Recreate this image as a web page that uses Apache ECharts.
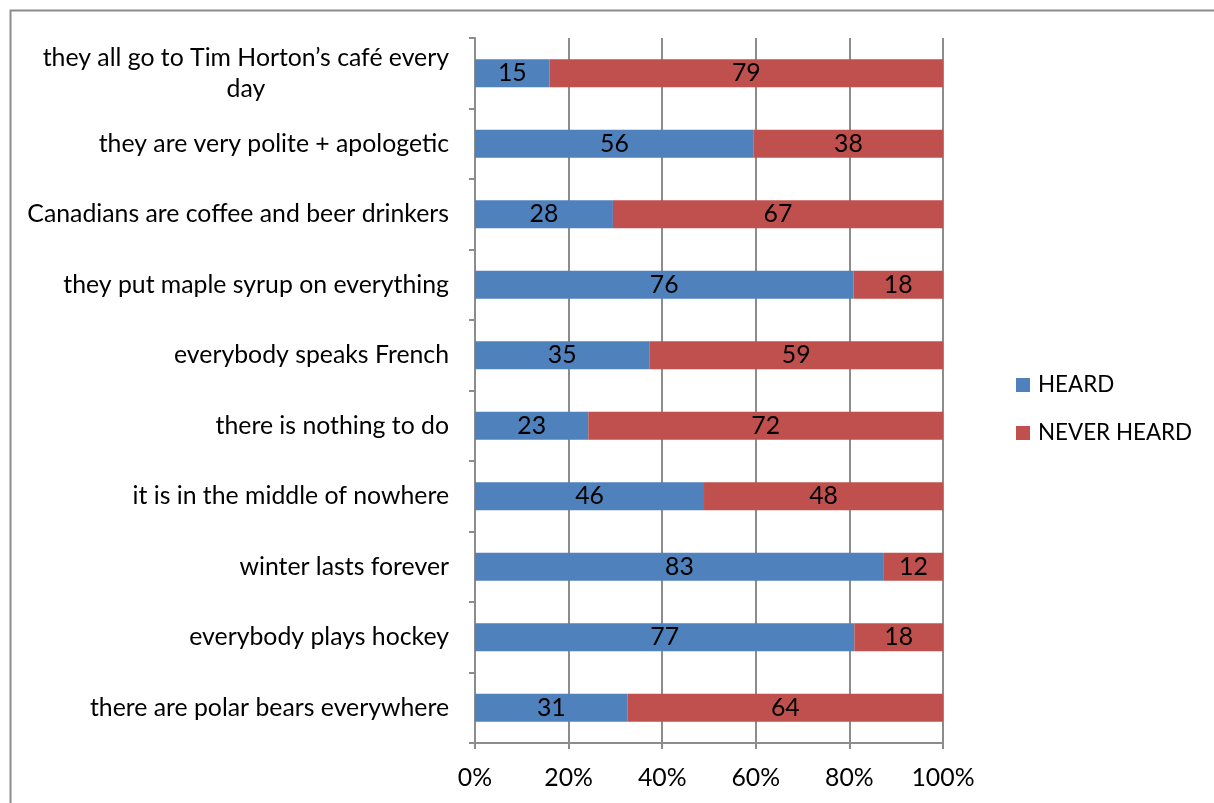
<!DOCTYPE html>
<html>
<head>
<meta charset="utf-8">
<script src="https://cdn.jsdelivr.net/npm/echarts@6/dist/echarts.min.js"></script>
<style>
html,body{margin:0;padding:0;background:#fff;}
#c{width:1214px;height:803px;}
</style>
</head>
<body>
<div id="c"></div>
<script>
const categories = [
  "they all go to Tim Horton’s café every day",
  "they are very polite + apologetic",
  "Canadians are coffee and beer drinkers",
  "they put maple syrup on everything",
  "everybody speaks French",
  "there is nothing to do",
  "it is in the middle of nowhere",
  "winter lasts forever",
  "everybody plays hockey",
  "there are polar bears everywhere"
];
const heard = [15, 56, 28, 76, 35, 23, 46, 83, 77, 31];
const neverHeard = [79, 38, 67, 18, 59, 72, 48, 12, 18, 64];
const xTickLabels = ["0%", "20%", "40%", "60%", "80%", "100%"];

const FONT = "Lato";
const FS = 24.8;
const LFS = 22.4;
const totals = heard.map((h, i) => h + neverHeard[i]);
const pct = (arr) => arr.map((v, i) => ({ value: v / totals[i] * 100, raw: v }));

const chart = echarts.init(document.getElementById('c'));
chart.setOption({
  animation: false,
  textStyle: { fontFamily: FONT },
  graphic: [{
    type: 'rect', left: 8, top: 8, silent: true,
    shape: { width: 1300, height: 900 },
    style: { fill: 'none', stroke: '#8c8c8c', lineWidth: 2 }
  }],
  grid: { left: 475, right: 271, top: 38, bottom: 60, containLabel: false },
  legend: {
    orient: 'vertical', left: 1011, top: 369,
    itemWidth: 14, itemHeight: 14, itemGap: 26,
    icon: 'rect',
    textStyle: { fontFamily: FONT, fontSize: LFS, color: '#000', padding: [0, 0, 0, 3] },
    data: ['HEARD', 'NEVER HEARD']
  },
  xAxis: {
    type: 'value', min: 0, max: 100, interval: 20,
    axisLine: { show: true, lineStyle: { color: '#8c8c8c', width: 2 } },
    axisTick: { show: true, length: 6, lineStyle: { color: '#8c8c8c', width: 2 } },
    splitLine: { show: true, lineStyle: { color: '#8c8c8c', width: 2 } },
    axisLabel: {
      margin: 23, color: '#000', fontFamily: FONT, fontSize: FS,
      formatter: (v) => xTickLabels[Math.round(v / 20)]
    }
  },
  yAxis: {
    type: 'category', inverse: true, data: categories,
    axisLine: { show: true, lineStyle: { color: '#8c8c8c', width: 2 } },
    axisTick: { show: true, length: 6, inside: false, lineStyle: { color: '#8c8c8c', width: 2 } },
    axisLabel: {
      margin: 26, color: '#000', fontFamily: FONT, fontSize: FS, align: 'right',
      formatter: (v, i) => {
        if (i === 0) return '{c|they all go to Tim Horton’s café every}\n{c|day}';
        return '{n|' + v + '}';
      },
      rich: {
        c: { align: 'center', fontFamily: FONT, fontSize: FS, color: '#000', lineHeight: 31 },
        n: { fontFamily: FONT, fontSize: FS, color: '#000' }
      }
    }
  },
  series: [
    {
      name: 'HEARD', type: 'bar', stack: 'all', barCategoryGap: '60%',
      itemStyle: { color: '#4F81BD' },
      label: { show: true, position: 'inside', color: '#000', fontFamily: FONT, fontSize: FS,
        formatter: (p) => p.data.raw },
      data: pct(heard)
    },
    {
      name: 'NEVER HEARD', type: 'bar', stack: 'all', barCategoryGap: '60%',
      itemStyle: { color: '#C0504D' },
      label: { show: true, position: 'inside', color: '#000', fontFamily: FONT, fontSize: FS,
        formatter: (p) => p.data.raw },
      data: pct(neverHeard)
    }
  ]
});
</script>
</body>
</html>
